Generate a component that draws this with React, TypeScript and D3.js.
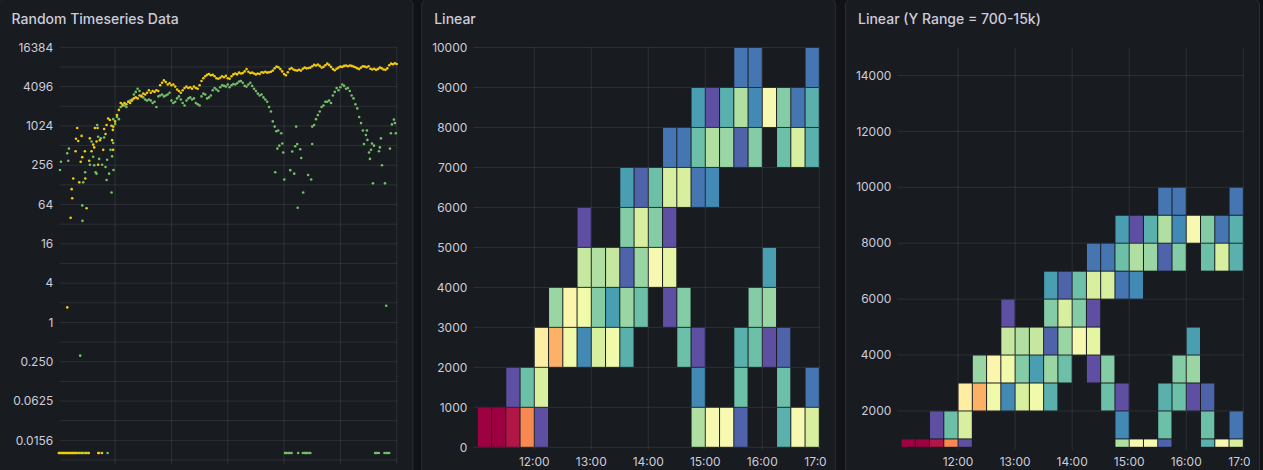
import * as d3 from 'd3';

const START = new Date(2024, 0, 1, 11, 0);
const END = new Date(2024, 0, 1, 17, 0);
const at = (m: number) => new Date(START.getTime() + m * 60000);

// ---- panel 1: random timeseries (log2 scale) ----
const LINE_STEP = 2;
const yellowLineStart = 58;
const yellowLine = [
  1000, 1200, 1500, 1800, 2300, 2100, 2300, 2200, 2400, 2300,
  2500, 2700, 2800, 2700, 3000, 2900, 3200, 3100, 3300, 3600,
  3300, 3500, 3400, 3600, 3500, 4300, 4700, 5100, 4800, 4400,
  4600, 4300, 4400, 4100, 3700, 3500, 3300, 3600, 3900, 4100,
  3900, 4000, 3800, 4100, 3900, 3800, 4300, 5000, 5500, 5900,
  6200, 6400, 6100, 6200, 5900, 5500, 5400, 5600, 5900, 5700,
  6000, 5500, 5400, 5900, 6300, 6500, 6300, 6700, 6500, 6600,
  7000, 7600, 6900, 6600, 6700, 6500, 6300, 6500, 6400, 6800,
  6700, 6900, 6700, 6800, 6900, 7200, 7800, 8300, 8100, 7600,
  7000, 6400, 6100, 6800, 7600, 7900, 7500, 7300, 7200, 7400,
  7200, 7700, 8000, 7800, 7900, 8000, 8400, 8800, 8600, 8900,
  8500, 8000, 8200, 8700, 9200, 8800, 8200, 7600, 7300, 7700,
  8000, 8300, 8200, 8500, 8600, 8400, 8600, 8500, 8300, 8100,
  7800, 7600, 8000, 8400, 8300, 8100, 8400, 7700, 7500, 7700,
  7400, 7600, 8000, 7800, 7500, 7400, 7800, 8700, 9200, 9000,
  9300, 9100,
];
const yellowScatter: [number, number][] = [
  [9, 1.7], [12.6, 40], [13.7, 110], [14.3, 80], [15.4, 160], [17.9, 420], [18.3, 650],
  [19.6, 950], [20.7, 600], [21.8, 140], [23.3, 290], [24.3, 720], [25, 340], [27.8, 420],
  [28.2, 160], [29.6, 56], [32.4, 300], [33.1, 660], [34.9, 420], [36.6, 530], [37.7, 480],
  [38.4, 950], [40.2, 590], [41.3, 950], [41.9, 260], [43.8, 620], [47.3, 440], [48.3, 920],
  [49.8, 770], [50.9, 1060], [52.6, 1330], [54.4, 1260], [56.2, 1030], [56.8, 620],
  [57.9, 440], [57.6, 890],
];
const greenLineStart = 58;
const greenLine = [
  1300, 1100, 1400, 1300, 2000, 2200, 2100, 2000, 2400, 2500,
  2600, 3100, 3400, 3800, 3500, 3000, 2800, 2600, 2500, 2600,
  2500, 2300, 2400, 2000, 2900, 3000, 3100, 2900, 3000, 3100,
  3300, 2500, 2300, 2400, 2700, 2900, 2600, 2300, 2100, 2500,
  2700, 2800, 2600, 2700, 2300, 2200, 2100, 2900, 3200, 3100,
  2700, 2800, 3000, 3600, 3900, 3700, 3500, 4000, 4300, 4200,
  4100, 4400, 4000, 4300, 4500, 4400, 4600, 4900, 5000, 4700,
  4200, 4100, 4400, 4700, 4200, 3800, 3500, 3200, 3000, 3100,
  2800, 2600, 2400, 2000, 1700, 1200, 1000,
];
const greenHumpStart = 270;
const greenHump = [
  1000, 1060, 1300, 1500, 1700, 2000, 2100, 2400, 2400, 2500,
  2300, 3000, 3400, 3900, 3600, 4000, 4400, 4200, 3800, 3900,
  3500, 3000, 2700, 2200, 1900, 1400, 1130, 870,
];
const greenScatter: [number, number][] = [
  [1.3, 216], [2.3, 290], [9, 390], [10.1, 300], [10.8, 460], [22.8, 0.31], [25, 62],
  [25.2, 36], [26, 140], [28.1, 200], [33.1, 260], [34.9, 590], [36.6, 345], [37.7, 256],
  [39.2, 200], [40.2, 190], [40.9, 1060], [41.9, 700], [43, 320], [44.8, 660], [46.2, 260],
  [48.3, 680], [49.8, 240], [50.9, 152], [51.5, 310], [53.6, 190], [55.1, 440], [56.2, 98],
  [56.8, 350], [57.9, 560], [58.3, 216],
  [230.6, 200], [231.7, 850], [232.8, 460], [233.8, 870], [234.9, 510], [237, 790],
  [238.1, 550], [239.1, 400], [240.2, 155], [246.6, 215], [248.7, 415], [250.8, 190],
  [251.9, 500], [252.9, 1000], [254, 540], [254.5, 57], [257.2, 450], [258.3, 330],
  [260.4, 98], [265.6, 181], [268.9, 155], [270, 540],
  [325.1, 540], [327.2, 745], [328.3, 870], [328.8, 625], [330.5, 400], [331.5, 320],
  [332.6, 440], [333.7, 550], [334.7, 135], [335.8, 510], [341.1, 420], [342.1, 480],
  [343.2, 660], [344.3, 256], [347.5, 135], [348.8, 1.8], [352.8, 460], [353.8, 790],
  [354.9, 1080], [357, 1280], [358.1, 1130], [359.1, 790],
];
// minutes with a zero reading, drawn on the floor of the log axis
const yellowZeros = [0, 1, 2, 3, 4, 5, 6, 7, 8, 9, 10, 11, 12, 13, 14, 15, 16, 17, 19, 22, 25, 29, 32, 42, 43, 46];
const greenZeros = [18, 20, 21, 23, 24, 26, 27, 28, 30, 31, 52, 241, 242, 243, 245, 246, 248, 255,
  260, 262, 263, 264, 265, 267, 268, 337, 338, 339, 341, 347, 349, 350, 352];
const ZERO_FLOOR = 0.01;
const logTickValues = [16384, 4096, 1024, 256, 64, 16, 4, 1, 0.25, 0.0625, 0.015625];
const logTickLabels = ['16384', '4096', '1024', '256', '64', '16', '4', '1', '0.250', '0.0625', '0.0156'];

// ---- panels 2 & 3: heatmap buckets (15 min x 1000) ----
const BUCKET_MIN = 15;
const BUCKET_SIZE = 1000;
const bucketCounts: number[][] = [
  [30, 0, 0, 0, 0, 0, 0, 0, 0, 0],
  [30, 0, 0, 0, 0, 0, 0, 0, 0, 0],
  [29, 1, 0, 0, 0, 0, 0, 0, 0, 0],
  [23, 7, 0, 0, 0, 0, 0, 0, 0, 0],
  [1, 12, 17, 0, 0, 0, 0, 0, 0, 0],
  [0, 0, 21, 9, 0, 0, 0, 0, 0, 0],
  [0, 0, 14, 16, 0, 0, 0, 0, 0, 0],
  [0, 0, 4, 14, 11, 1, 0, 0, 0, 0],
  [0, 0, 12, 8, 10, 0, 0, 0, 0, 0],
  [0, 0, 14, 5, 11, 0, 0, 0, 0, 0],
  [0, 0, 6, 9, 2, 8, 5, 0, 0, 0],
  [0, 0, 0, 7, 9, 12, 2, 0, 0, 0],
  [0, 0, 0, 0, 15, 8, 7, 0, 0, 0],
  [0, 0, 0, 1, 13, 1, 12, 3, 0, 0],
  [0, 0, 7, 8, 0, 0, 12, 3, 0, 0],
  [10, 4, 1, 0, 0, 0, 3, 7, 5, 0],
  [15, 0, 0, 0, 0, 0, 4, 10, 1, 0],
  [15, 0, 0, 0, 0, 0, 0, 9, 6, 0],
  [2, 7, 6, 0, 0, 0, 0, 2, 10, 3],
  [0, 0, 7, 8, 0, 0, 0, 8, 4, 3],
  [0, 0, 1, 9, 5, 0, 0, 0, 15, 0],
  [6, 7, 2, 0, 0, 0, 0, 7, 8, 0],
  [15, 0, 0, 0, 0, 0, 0, 12, 3, 0],
  [12, 3, 0, 0, 0, 0, 0, 6, 6, 3],
];
const linearTicks = [0, 1000, 2000, 3000, 4000, 5000, 6000, 7000, 8000, 9000, 10000];
const rangedTicks = [2000, 4000, 6000, 8000, 10000, 12000, 14000];

const FONT = 'Inter, "Open Sans", sans-serif';
const TEXT = '#ccccdc';
const GRID = 'rgba(240,250,255,0.09)';
const PANEL_BG = '#181b1f';
const PANEL_BORDER = 'rgba(204,204,220,0.12)';
const YELLOW = '#f2cc0c';
const GREEN = '#73bf69';

const hourTicks = d3.timeHours(at(60), at(361));
const fmtHour = d3.timeFormat('%H:%M');
const color = d3.scaleSequential(d3.interpolateSpectral).domain([30, 1]);

function Panel({ x, y, w, h, title }: { x: number; y: number; w: number; h: number; title: string }) {
  return (
    <g>
      <rect x={x} y={y} width={w} height={h} rx={6} fill={PANEL_BG} stroke={PANEL_BORDER} />
      <text x={x + 12.5} y={19} dy="0.35em" fill={TEXT} fontSize={14} fontWeight={500} fontFamily={FONT}>
        {title}
      </text>
    </g>
  );
}

function ScatterPanel() {
  const x = d3.scaleTime().domain([START, END]).range([58.8, 396.7]);
  const y = d3.scaleLog().base(2).domain([2 ** -7, 2 ** 14]).range([460, 47.3]);
  const gridExp = d3.range(-7, 15);
  const pts = (arr: number[], start: number) =>
    arr.map((v, i) => [start + i * LINE_STEP, v] as [number, number]);
  const dot = (c: string) => (d: [number, number], i: number) => (
    <circle key={i} cx={x(at(d[0]))} cy={y(d[1] === 0 ? ZERO_FLOOR : d[1])} r={1.3} fill={c} />
  );
  const green = [
    ...pts(greenLine, greenLineStart),
    ...pts(greenHump, greenHumpStart),
    ...greenScatter,
    ...greenZeros.map((m) => [m, 0] as [number, number]),
  ];
  const yellow = [
    ...pts(yellowLine, yellowLineStart),
    ...yellowScatter,
    ...yellowZeros.map((m) => [m, 0] as [number, number]),
  ];
  return (
    <g>
      <Panel x={-1} y={-1} w={414} h={490} title="Random Timeseries Data" />
      {gridExp.map((e) => (
        <line key={e} x1={59.3} x2={397.3} y1={y(2 ** e)} y2={y(2 ** e)} stroke={GRID} />
      ))}
      {hourTicks.map((t, i) => (
        <line key={i} x1={x(t)} x2={x(t)} y1={47.3} y2={464} stroke={GRID} />
      ))}
      {logTickValues.map((v, i) => (
        <text key={v} x={53.3} y={y(v)} dy="0.35em" textAnchor="end" fill={TEXT} fontSize={12} fontFamily={FONT}>
          {logTickLabels[i]}
        </text>
      ))}
      <g>{green.map(dot(GREEN))}</g>
      <g>{yellow.map(dot(YELLOW))}</g>
    </g>
  );
}

function HeatmapPanel({
  px, title, domain, ticks, gridLeft, xRange, labelX, clipId, clipRight,
}: {
  px: number; title: string; domain: [number, number]; ticks: number[];
  gridLeft: number; xRange: [number, number]; labelX: number; clipId: string; clipRight: number;
}) {
  const x = d3.scaleTime().domain([START, END]).range(xRange);
  const y = d3.scaleLinear().domain(domain).range([447.3, 47.5]).clamp(true);
  const cells: JSX.Element[] = [];
  bucketCounts.forEach((col, ci) => {
    col.forEach((count, ri) => {
      if (!count) return;
      const x0 = x(at(ci * BUCKET_MIN));
      const x1 = x(at((ci + 1) * BUCKET_MIN));
      const y0 = y(ri * BUCKET_SIZE);
      const y1 = y((ri + 1) * BUCKET_SIZE);
      if (y0 - y1 < 1) return;
      cells.push(
        <rect key={`${ci}-${ri}`} x={x0 + 0.5} y={y1 + 0.5} width={x1 - x0 - 1} height={y0 - y1 - 1}
          fill={color(count)} />
      );
    });
  });
  return (
    <g>
      <Panel x={px} y={-1} w={414} h={490} title={title} />
      <clipPath id={clipId}>
        <rect x={px} y={0} width={clipRight - px} height={470} />
      </clipPath>
      {ticks.map((t) => (
        <line key={t} x1={gridLeft} x2={xRange[1] + 0.7} y1={y(t)} y2={y(t)} stroke={GRID} />
      ))}
      {hourTicks.map((t, i) => (
        <line key={i} x1={x(t)} x2={x(t)} y1={47.5} y2={450} stroke={GRID} />
      ))}
      {cells}
      {ticks.map((t) => (
        <text key={t} x={labelX} y={y(t)} dy="0.35em" textAnchor="end" fill={TEXT} fontSize={12} fontFamily={FONT}>
          {t}
        </text>
      ))}
      <g clipPath={`url(#${clipId})`}>
        {hourTicks.map((t, i) => (
          <text key={i} x={x(t)} y={462} dy="0.35em" textAnchor="middle" fill={TEXT} fontSize={12} fontFamily={FONT}>
            {fmtHour(t)}
          </text>
        ))}
      </g>
    </g>
  );
}

export default function App() {
  return (
    <>
      <style>{'body{margin:0;background:#111217;overflow:hidden}'}</style>
      <svg width={1263} height={470} style={{ display: 'block', background: '#111217' }}>
        <ScatterPanel />
        <HeatmapPanel px={421.7} title="Linear" domain={[0, 10000]} ticks={linearTicks}
          gridLeft={473.3} xRange={[477.3, 819.3]} labelX={467.3} clipId="clip2" clipRight={827} />
        <HeatmapPanel px={845.5} title="Linear (Y Range = 700-15k)" domain={[700, 15000]} ticks={rangedTicks}
          gridLeft={897.3} xRange={[901, 1243.3]} labelX={891.3} clipId="clip3" clipRight={1250} />
      </svg>
    </>
  );
}
